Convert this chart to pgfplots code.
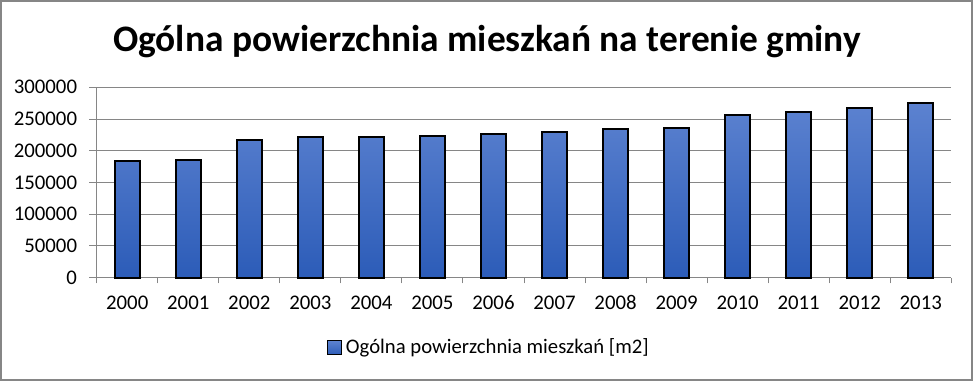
\documentclass[border=0pt]{standalone}
\usepackage{pgfplots}
\pgfplotsset{compat=1.18}
\usepackage{fontspec}
\setmainfont{Carlito}
\definecolor{bartop}{RGB}{92,130,208}
\definecolor{barbot}{RGB}{44,92,184}
\definecolor{gridc}{RGB}{134,134,134}
\begin{document}
\begin{tikzpicture}
\useasboundingbox (0,0) rectangle (487.5pt,190.5pt);
\draw[gridc, line width=0.6pt] (0.5pt,0.5pt) rectangle (486pt,190pt);
\node[anchor=base, font=\fontsize{18.7}{21}\selectfont\bfseries] at (243.5pt,164.5pt) {Ogólna powierzchnia mieszkań na terenie gminy};
\begin{axis}[
  at={(48.35pt,51.65pt)}, anchor=south west,
  width=427.3pt, height=95.2pt, scale only axis,
  xmin=-0.5, xmax=13.5, ymin=0, ymax=300000,
  axis x line*=bottom, axis y line*=left,
  axis line style={gridc, line width=0.5pt},
  xtick={0,...,13},
  xticklabels={2000,2001,2002,2003,2004,2005,2006,2007,2008,2009,2010,2011,2012,2013},
  major x tick style={draw=none},
  minor xtick={-0.5,0.5,...,13.5},
  minor x tick style={gridc, line width=0.5pt},
  minor tick length=2.8pt,
  ytick={0,50000,...,300000},
  ymajorgrids, grid style={gridc, line width=0.5pt},
  major y tick style={gridc, line width=0.5pt},
  major tick length=3.8pt,
  tick align=outside,
  /pgf/number format/fixed,
  /pgf/number format/1000 sep={},
  /pgf/number format/assume math mode=true,
  scaled y ticks=false,
  tick label style={font=\fontsize{10.4}{12}\selectfont},
  xticklabel style={yshift=-1.5pt, text height=7pt, text depth=0pt},
  yticklabel style={xshift=-2.5pt},
  legend style={at={(0.46,-0.369)}, anchor=center, draw=none, fill=none,
    font=\fontsize{10.35}{12}\selectfont, inner sep=1pt},
  legend cell align=left,
  legend image code/.code={\draw[draw=black, line width=0.5pt, top color=bartop, bottom color=barbot] (0pt,-3.5pt) rectangle (7pt,3.5pt);},
  clip=false,
]
\addplot[ybar, bar width=12.5pt, draw=black, line width=1pt, top color=bartop, bottom color=barbot]
  coordinates {(0,184300) (1,185900) (2,217000) (3,222200) (4,222000) (5,223300) (6,226900) (7,230000) (8,234800) (9,236300) (10,256800) (11,261600) (12,267400) (13,275700)};
\addlegendentry{Ogólna powierzchnia mieszkań [m2]}
\end{axis}
\end{tikzpicture}
\end{document}
